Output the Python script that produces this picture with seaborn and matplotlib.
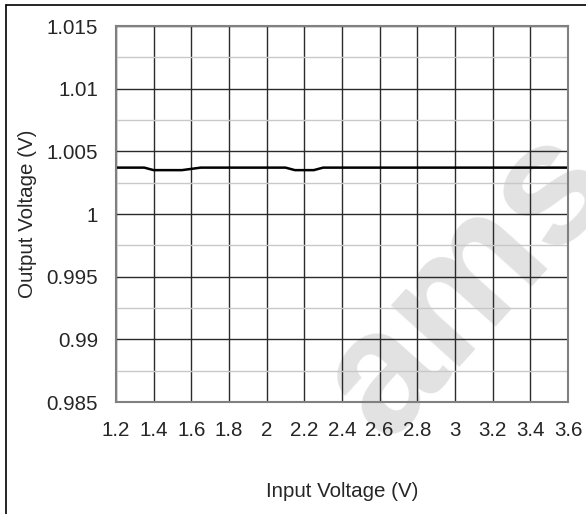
import numpy as np
import pandas as pd
import matplotlib
matplotlib.use('Agg')
import matplotlib.pyplot as plt
from matplotlib.lines import Line2D
from matplotlib.ticker import MultipleLocator
import seaborn as sns

# Output voltage vs input voltage
input_v = [1.2, 1.3, 1.35, 1.4, 1.5, 1.55, 1.6, 1.65, 1.8, 2.0, 2.1, 2.15, 2.2, 2.25, 2.3, 2.5, 3.0, 3.6]
output_v = [1.0037, 1.0037, 1.0037, 1.0035, 1.0035, 1.0035, 1.0036, 1.0037, 1.0037, 1.0037,
            1.0037, 1.0035, 1.0035, 1.0035, 1.0037, 1.0037, 1.0037, 1.0037]
x_ticks = [1.2, 1.4, 1.6, 1.8, 2.0, 2.2, 2.4, 2.6, 2.8, 3.0, 3.2, 3.4, 3.6]
x_tick_labels = ['1.2', '1.4', '1.6', '1.8', '2', '2.2', '2.4', '2.6', '2.8', '3', '3.2', '3.4', '3.6']
y_ticks = [0.985, 0.99, 0.995, 1.0, 1.005, 1.01, 1.015]
y_tick_labels = ['0.985', '0.99', '0.995', '1', '1.005', '1.01', '1.015']

df = pd.DataFrame({'vin': input_v, 'vout': output_v})

sns.set_style('white')
plt.rcParams['font.family'] = ['Liberation Sans', 'DejaVu Sans']
fontsize = 14.8

fig = plt.figure(figsize=(5.86, 5.14), dpi=100)
ax = fig.add_axes([116 / 586, 1 - 402 / 514, (568 - 116) / 586, (402 - 26) / 514])
ax.patch.set_facecolor('none')

# watermark behind the grid
fig.text(0.80, 0.45, 'ams', rotation=48, fontsize=125, fontweight='bold',
         color='#e2e2e2', ha='center', va='center', zorder=-1)

sns.lineplot(data=df, x='vin', y='vout', color='black', linewidth=1.8, ax=ax)

ax.set_xlim(1.2, 3.6)
ax.set_ylim(0.985, 1.015)
ax.set_xticks(x_ticks)
ax.set_xticklabels(x_tick_labels, fontsize=fontsize)
ax.set_yticks(y_ticks)
ax.set_yticklabels(y_tick_labels, fontsize=fontsize)
ax.yaxis.set_minor_locator(MultipleLocator(0.0025))
ax.tick_params(axis='both', which='both', length=0)
ax.tick_params(axis='x', pad=14)
ax.tick_params(axis='y', pad=13)

ax.grid(True, which='major', color='#2a2a2a', linewidth=1)
ax.grid(True, which='minor', axis='y', color='#c8c8c8', linewidth=1)
ax.set_axisbelow(True)

for s in ax.spines.values():
    s.set_visible(True)
    s.set_color('#808080')
    s.set_linewidth(1.5)

ax.set_xlabel('Input Voltage (V)', fontsize=fontsize, labelpad=30)
ax.set_ylabel('Output Voltage (V)', fontsize=fontsize, labelpad=7)

# outer frame (left and top)
fig.add_artist(Line2D([6 / 586, 6 / 586], [0, 1 - 5 / 514], color='black', linewidth=1.2))
fig.add_artist(Line2D([6 / 586, 1], [1 - 5 / 514, 1 - 5 / 514], color='black', linewidth=1.2))

fig.savefig('out.png', dpi=100)
